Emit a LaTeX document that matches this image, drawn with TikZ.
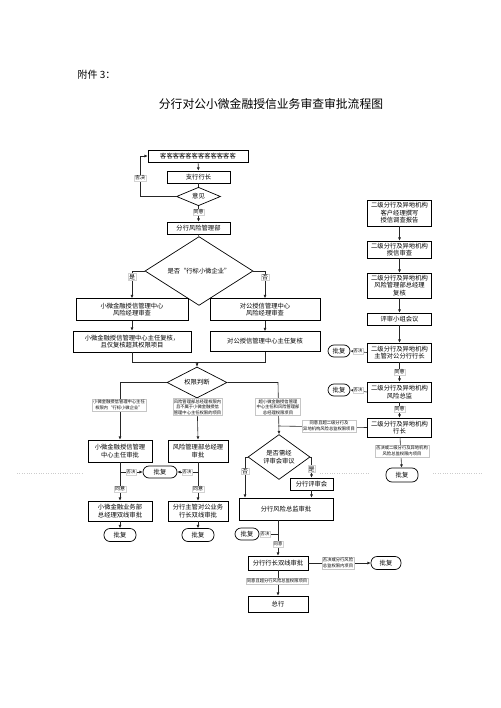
\documentclass[tikz,border=0pt]{standalone}
\usepackage{fontspec}
\newfontfamily\cjk{Noto Sans CJK SC}
\usetikzlibrary{shapes.geometric,arrows.meta}
\begin{document}
\begin{tikzpicture}[x=1pt,y=-1pt,
  box/.style={draw, line width=0.7pt, fill=white, align=center, inner sep=0.5pt,
    font=\cjk\fontsize{6.3}{7.6}\selectfont},
  dia/.style={draw, line width=0.7pt, fill=white, shape=diamond, align=center, inner sep=0pt,
    font=\cjk\fontsize{6.3}{7.6}\selectfont},
  pill/.style={draw, line width=0.7pt, fill=white, rounded corners=6pt, inner sep=0pt,
    font=\cjk\fontsize{6.3}{7.6}\selectfont},
  lab/.style={fill=white, draw=gray!45, line width=0.2pt, inner sep=1pt, align=center,
    font=\cjk\fontsize{4.3}{5.4}\selectfont},
  yn/.style={fill=white, draw=gray!35, line width=0.2pt, inner sep=0.8pt,
    font=\cjk\fontsize{5}{6}\selectfont},
  ln/.style={line width=0.6pt, draw=black!85},
  arr/.style={ln, -{Latex[length=3.2pt,width=3pt]}},
  dots/.style={draw=gray!40, line width=0.4pt, dotted}
]
\useasboundingbox (0,0) rectangle (500,708);

% header
\node[anchor=west, font=\cjk\fontsize{10}{12}\selectfont] (att) at (74,75) {附件 3：};
\node[font=\cjk\fontsize{11.8}{14}\selectfont] (title) at (271,104) {分行对公小微金融授信业务审查审批流程图};

% faint page marks
\draw[dots] (17,473) -- (83,473);
\draw[dots] (320,473) -- (370,473);
\draw[dots] (433,473) -- (482,473);

% top chain
\node[box, minimum width=100, minimum height=12] (top) at (198,156) {客客客客客客客客客客客客};
\node[box, minimum width=63, minimum height=12] (zh) at (198.5,177) {支行行长};
\node[dia, minimum width=44, minimum height=17] (yj) at (198.5,196.5) {意见};
\node[box, minimum width=63, minimum height=12] (fxb) at (198.5,228) {分行风险管理部};
\node[dia, minimum width=108, minimum height=38] (d1) at (199,271) {是否“行标小微企业”};

\node[box, minimum width=112, minimum height=22] (L1) at (132,309.5) {小微金融授信管理中心\\风险经理审查};
\node[box, minimum width=110, minimum height=22] (R1) at (265,309.5) {对公授信管理中心\\风险经理审查};
\node[box, minimum width=118, minimum height=21] (L2) at (132,341.5) {小微金融授信管理中心主任复核，\\且仅复核超其权限项目};
\node[box, minimum width=110, minimum height=20] (R2) at (265,341.5) {对公授信管理中心主任复核};

\node[dia, minimum width=60, minimum height=25] (d2) at (197,382.5) {权限判断};

\node[box, minimum width=64, minimum height=22] (B1) at (120,451) {小微金融授信管理\\中心主任审批};
\node[box, minimum width=60, minimum height=22] (B2) at (198,451) {风险管理部总经理\\审批};
\node[pill, minimum width=34, minimum height=12] (pf1) at (160,472) {批复};
\node[box, minimum width=64, minimum height=20] (C1) at (120,511) {小微金融业务部\\总经理双线审批};
\node[box, minimum width=60, minimum height=20] (C2) at (198,511) {分行主管对公业务\\行长双线审批};
\node[pill, minimum width=32, minimum height=13] (pf2) at (120,535) {批复};
\node[pill, minimum width=32, minimum height=13] (pf3) at (198,535) {批复};

% right branch
\node[dia, minimum width=62, minimum height=42] (d3) at (279,457) {是否需经\\评审会审议};
\node[box, minimum width=43, minimum height=12] (ps) at (311.5,484) {分行评审会};
\node[box, minimum width=94, minimum height=22] (fz) at (286,509) {分行风险总监审批};
\node[pill, minimum width=24, minimum height=12] (pf4) at (247,534) {批复};
\node[box, minimum width=60, minimum height=14] (hz) at (278,563) {分行行长双线审批};
\node[pill, minimum width=30, minimum height=13] (pf5) at (386,563) {批复};
\node[box, minimum width=60, minimum height=16] (zg) at (278,604) {总行};

% right column
\node[box, minimum width=64, minimum height=26] (r1) at (399.5,213) {二级分行及异地机构\\客户经理撰写\\授信调查报告};
\node[box, minimum width=64, minimum height=17] (r2) at (399.5,249.5) {二级分行及异地机构\\授信审查};
\node[box, minimum width=64, minimum height=25] (r3) at (399.5,285.5) {二级分行及异地机构\\风险管理部总经理\\复核};
\node[box, minimum width=64, minimum height=12] (r4) at (399.5,319) {评审小组会议};
\node[box, minimum width=64, minimum height=19] (r5) at (399.5,352.5) {二级分行及异地机构\\主管对公分行行长};
\node[box, minimum width=64, minimum height=20] (r6) at (399.5,392) {二级分行及异地机构\\风险总监};
\node[box, minimum width=64, minimum height=19] (r7) at (399.5,427.5) {二级分行及异地机构\\行长};
\node[pill, minimum width=22, minimum height=12] (pf6) at (339,351) {批复};
\node[pill, minimum width=22, minimum height=12] (pf7) at (339,390) {批复};
\node[pill, minimum width=32, minimum height=14] (pf8) at (402,475) {批复};

% coordinates
\coordinate (lp) at (140,196.5);
\coordinate (m1) at (132,362);
\coordinate (m2) at (265,362);
\coordinate (m0) at (197,362);
\coordinate (jl) at (120,382.5);
\coordinate (jr) at (278,382.5);
\coordinate (j3) at (278,426);
\coordinate (dl) at (245,457);
\coordinate (dr) at (311.5,457);
\coordinate (b1s) at (120,472);
\coordinate (b2s) at (198,472);
\coordinate (fzs) at (278,520);
\coordinate (fzq) at (278,534);
\coordinate (fzp) at (245,498);

% connectors: top
\draw[arr] (top) -- (zh);
\draw[ln] (zh) -- (yj);
\draw[arr] (yj.west) -- (lp) |- (top.west);
\draw[arr] (yj) -- (fxb);
\draw[ln] (fxb) -- (d1);
\draw[arr] (d1.west) -| (L1.north);
\draw[arr] (d1.east) -| (R1.north);
\draw[arr] (L1) -- (L2);
\draw[arr] (R1) -- (R2);
\draw[ln] (L2.south) -- (m1) -- (m2) -- (R2.south);
\draw[arr] (m0) -- (d2.north);
\draw[arr] (d2.west) -- (jl) -- (B1.north);
\draw[arr] (d2.south) -- (B2.north);
\draw[arr] (d2.east) -- (jr) -- (d3.north);
\draw[ln] (r7.west) -- (j3);
\draw[arr] (B1) -- (C1);
\draw[arr] (B2) -- (C2);
\draw[arr] (b1s) -- (pf1.west);
\draw[arr] (b2s) -- (pf1.east);
\draw[arr] (C1) -- (pf2);
\draw[arr] (C2) -- (pf3);
\draw[arr] (d3.west) -- (dl) -- (fz.north -| dl);
\draw[arr] (d3.east) -- (dr) -- (ps.north);
\draw[arr] (ps) -- (fz.north -| ps);
\draw[arr] (fz.south -| fzs) -- (hz.north);
\draw[arr] (fzq) -- (pf4.east);
\draw[arr] (hz.east) -- (pf5.west);
\draw[arr] (hz) -- (zg);
\draw[arr] (r1) -- (r2);
\draw[arr] (r2) -- (r3);
\draw[arr] (r3) -- (r4);
\draw[arr] (r4) -- (r5);
\draw[arr] (r5) -- (r6);
\draw[arr] (r6) -- (r7);
\draw[arr] (r5.west) -- (pf6.east);
\draw[arr] (r6.west) -- (pf7.east);
\draw[arr] (r7) -- (pf8);

% labels on connectors
\node[yn] (t1) at (140,178) {否决};
\node[yn] (t2) at (198.5,212) {同意};
\node[yn, font=\cjk\fontsize{6}{7}\selectfont] (t3) at (132,277) {是};
\node[yn, font=\cjk\fontsize{6}{7}\selectfont] (t4) at (265,277) {否};
\node[lab] (l1) at (119,405) {小微金融授信管理中心主任\\权限内“行标小微企业”};
\node[lab] (l2) at (197.5,407) {风险管理部总经理权限内\\且不属于小微金融授信\\管理中心主任权限的项目};
\node[lab] (l3) at (278,407) {超小微金融授信管理\\中心主任和风险管理部\\总经理权限项目};
\node[lab] (l4) at (329,426) {同意且超二级分行及\\异地机构风险总监权限项目};
\node[yn, font=\cjk\fontsize{4.3}{5}\selectfont] (t5) at (131,472) {否决};
\node[yn, font=\cjk\fontsize{4.3}{5}\selectfont] (t6) at (187,472) {否决};
\node[yn] (t7) at (120,489) {同意};
\node[yn] (t8) at (198,489) {同意};
\node[yn, font=\cjk\fontsize{6}{7}\selectfont] (t9) at (245,471) {否};
\node[yn, font=\cjk\fontsize{6}{7}\selectfont] (t10) at (311.5,469) {是};
\node[yn, font=\cjk\fontsize{4.3}{5}\selectfont] (t11) at (265,534) {否决};
\node[yn, font=\cjk\fontsize{4.3}{5}\selectfont] (t12) at (278,544) {同意};
\node[lab] (l5) at (338,563) {否决或分行风险\\总监权限内项目};
\node[lab] (l6) at (277,581) {同意且超分行风险总监权限项目};
\node[yn, font=\cjk\fontsize{4.3}{5}\selectfont] (t13) at (358,351) {否决};
\node[yn, font=\cjk\fontsize{4.3}{5}\selectfont] (t14) at (358,390) {否决};
\node[yn] (t15) at (399.5,372) {同意};
\node[yn] (t16) at (399.5,409) {同意};
\node[lab] (l7) at (402,451) {否决或二级分行及异地机构\\风险总监权限内项目};
\end{tikzpicture}
\end{document}
